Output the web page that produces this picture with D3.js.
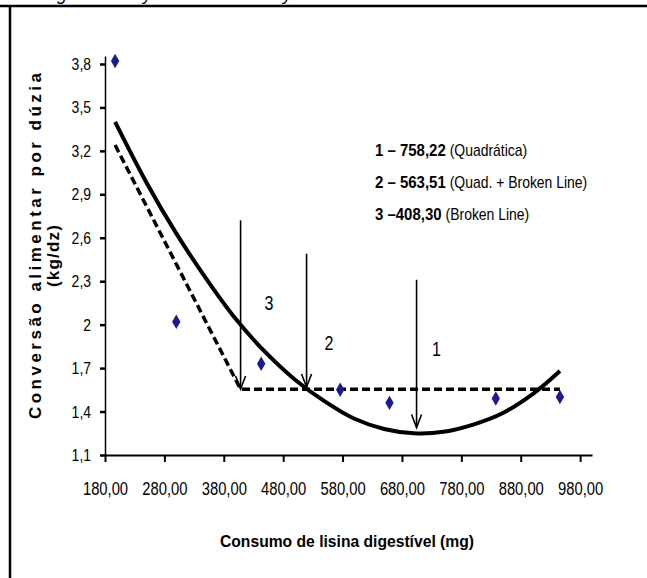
<!DOCTYPE html>
<html><head><meta charset="utf-8">
<script src="https://cdn.jsdelivr.net/npm/d3@7"></script>
<style>
html,body{margin:0;padding:0;background:#fff;}
svg{display:block;}
</style></head>
<body>
<svg id="chart" width="647" height="578"></svg>
<script>
// ---- data ----
const obsX = [197, 300, 443, 576, 659, 838, 946];
const obsY = [3.82, 2.02, 1.73, 1.55, 1.46, 1.49, 1.50];

// quadratic fit, points
const quadX = [197, 250, 300, 350, 400, 450, 500, 550, 600, 650, 700, 750, 800, 850, 900, 946];
const quadY = [3.40, 2.98, 2.63, 2.32, 2.04, 1.81, 1.62, 1.47, 1.35, 1.28, 1.25, 1.26, 1.31, 1.39, 1.52, 1.68];

// broken-line fit
const brokenX = [197, 408.3, 946];
const brokenY = [3.24, 1.554, 1.554];

// arrows marking the estimates
const arrowLabel = ["1", "2", "3"];
const arrowX = [704.6, 519.4, 408.3];
const arrowTop = [2.31, 2.49, 2.72];
const arrowTip = [1.29, 1.57, 1.556];
const arrowTextX = [738, 557, 456];
const arrowTextY = [1.83, 1.87, 2.15];

const xTicks = [180, 280, 380, 480, 580, 680, 780, 880, 980];
const yTicks = [1.1, 1.4, 1.7, 2.0, 2.3, 2.6, 2.9, 3.2, 3.5, 3.8];

const legendBold = ["1 \u2013 758,22", "2 \u2013 563,51", "3 \u2013408,30"];
const legendText = ["(Quadrática)", "(Quad. + Broken Line)", "(Broken Line)"];

const xTitle = "Consumo de lisina digestível (mg)";
const yTitle1 = "Conversão alimentar por dúzia";
const yTitle2 = "(kg/dz)";

// ---- drawing ----
const svg = d3.select("#chart");
const sans = "'Liberation Sans',Arial,sans-serif";
const x = d3.scaleLinear().domain([180, 1000]).range([105, 592]);
const y = d3.scaleLinear().domain([1.1, 3.855]).range([455, 56]);
const fmt = d => d.toFixed(2).replace(".", ",");
const fmtY = d => (Math.abs(d - 2) < 1e-9 ? "2" : d.toFixed(1).replace(".", ","));

// squeeze text horizontally to imitate the narrow face of the original
function condense(sel, f) {
  let last = 0;
  sel.each(function () {
    const w = this.getComputedTextLength();
    last = w * f;
    d3.select(this).attr("textLength", last).attr("lengthAdjust", "spacingAndGlyphs");
  });
  return last;
}

// frame
svg.append("line").attr("x1", 0).attr("x2", 647).attr("y1", 6).attr("y2", 6)
  .attr("stroke", "#000").attr("stroke-width", 2.5);
svg.append("line").attr("x1", 10).attr("x2", 10).attr("y1", 6).attr("y2", 578)
  .attr("stroke", "#000").attr("stroke-width", 2.5);
// caption above the frame, cut by the page top as in the original
[["g", 57], ["y", 143], ["y", 283]].forEach(([t, px]) => {
  svg.append("text").attr("x", px).attr("y", 0).attr("font-style", "italic")
    .attr("font-family", sans).attr("font-size", 18).text(t);
});

// axes
const xAxis = d3.axisBottom(x).tickValues(xTicks).tickFormat(fmt).tickSize(7).tickSizeOuter(0);
const gx = svg.append("g").attr("transform", "translate(0,455)").call(xAxis);
gx.select(".domain").attr("stroke-width", 2);
gx.selectAll(".tick line").attr("stroke-width", 2);
gx.selectAll("text").attr("font-family", sans).attr("font-size", 18).attr("fill", "#000")
  .attr("y", 40).attr("dy", 0);
condense(gx.selectAll("text"), 0.82);

const yAxis = d3.axisLeft(y).tickValues(yTicks).tickFormat(fmtY).tickSize(5).tickSizeOuter(0);
const gy = svg.append("g").attr("transform", "translate(105,0)").call(yAxis);
gy.select(".domain").attr("stroke-width", 1.5);
gy.selectAll(".tick line").attr("stroke-width", 2.5);
gy.selectAll("text").attr("font-family", sans).attr("font-size", 17).attr("fill", "#000").attr("x", -14);
condense(gy.selectAll("text"), 0.82);

// axis titles
const xt = svg.append("text").attr("x", 347).attr("y", 547).attr("text-anchor", "middle")
  .attr("font-family", sans).attr("font-weight", "bold").attr("font-size", 17).text(xTitle);
xt.attr("textLength", 254).attr("lengthAdjust", "spacingAndGlyphs");
svg.append("text").attr("transform", "translate(41,246) rotate(-90)").attr("text-anchor", "middle")
  .attr("font-family", sans).attr("font-weight", "bold").attr("font-size", 17)
  .attr("textLength", 346).attr("lengthAdjust", "spacing").text(yTitle1);
svg.append("text").attr("transform", "translate(59,256) rotate(-90)").attr("text-anchor", "middle")
  .attr("font-family", sans).attr("font-weight", "bold").attr("font-size", 17)
  .attr("textLength", 62).attr("lengthAdjust", "spacing").text(yTitle2);

// curves
const quadLine = d3.line().x(d => x(d[0])).y(d => y(d[1])).curve(d3.curveCatmullRom);
svg.append("path").datum(d3.zip(quadX, quadY)).attr("d", quadLine)
  .attr("fill", "none").attr("stroke", "#000").attr("stroke-width", 4);
const brokenLine = d3.line().x(d => x(d[0])).y(d => y(d[1]));
svg.append("path").datum(d3.zip(brokenX, brokenY)).attr("d", brokenLine)
  .attr("fill", "none").attr("stroke", "#000").attr("stroke-width", 3.5)
  .attr("stroke-dasharray", "8,4");

// arrows
arrowX.forEach((ax, i) => {
  const px = x(ax), top = y(arrowTop[i]), tip = y(arrowTip[i]);
  svg.append("line").attr("x1", px).attr("x2", px).attr("y1", top).attr("y2", tip)
    .attr("stroke", "#000").attr("stroke-width", 1.6);
  svg.append("path").attr("d", `M${px - 5},${tip - 13}L${px},${tip}L${px + 5},${tip - 13}`)
    .attr("fill", "none").attr("stroke", "#000").attr("stroke-width", 1.6);
  const t = svg.append("text").attr("x", x(arrowTextX[i])).attr("y", y(arrowTextY[i])).attr("dy", "0.35em")
    .attr("text-anchor", "middle").attr("font-family", sans).attr("font-size", 20).text(arrowLabel[i]);
  condense(t, 0.8);
});

// observed points
svg.append("g").selectAll("path").data(d3.zip(obsX, obsY)).join("path")
  .attr("transform", d => `translate(${x(d[0])},${y(d[1])})`)
  .attr("d", d3.symbol(d3.symbolDiamond, 60))
  .attr("fill", "#1b1b8f");

// legend
legendBold.forEach((b, i) => {
  const ly = 156 + i * 32;
  const tb = svg.append("text").attr("x", 375).attr("y", ly)
    .attr("font-family", sans).attr("font-size", 17).attr("font-weight", "bold").text(b);
  const wb = condense(tb, 0.88);
  const tn = svg.append("text").attr("x", 375 + wb + 4).attr("y", ly)
    .attr("font-family", sans).attr("font-size", 17).text(legendText[i]);
  condense(tn, 0.82);
});
</script>
</body></html>
